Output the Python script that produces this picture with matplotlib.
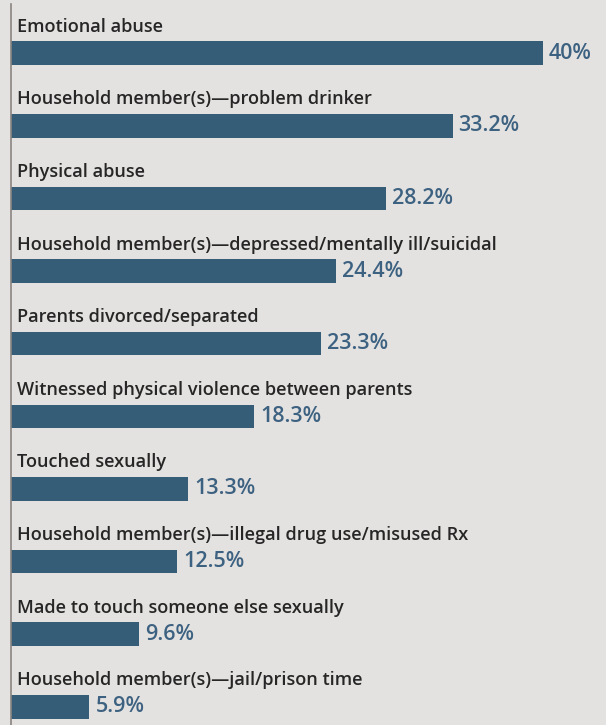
import matplotlib.pyplot as plt

# ACE categories and prevalence (%)
categories = [
    "Emotional abuse",
    "Household member(s)\u2014problem drinker",
    "Physical abuse",
    "Household member(s)\u2014depressed/mentally ill/suicidal",
    "Parents divorced/separated",
    "Witnessed physical violence between parents",
    "Touched sexually",
    "Household member(s)\u2014illegal drug use/misused Rx",
    "Made to touch someone else sexually",
    "Household member(s)\u2014jail/prison time",
]
values = [40, 33.2, 28.2, 24.4, 23.3, 18.3, 13.3, 12.5, 9.6, 5.9]
value_labels = ["40%", "33.2%", "28.2%", "24.4%", "23.3%", "18.3%", "13.3%", "12.5%", "9.6%", "5.9%"]

bg = "#e4e2e0"
bar_color = "#365d78"
value_color = "#3d6281"
text_color = "#262626"

plt.rcParams['font.family'] = ['Open Sans', 'DejaVu Sans']

fig = plt.figure(figsize=(6.06, 7.25), dpi=100, facecolor=bg)
ax = fig.add_axes([11 / 606, 0, 595 / 606, 1], facecolor=bg)

ypos = list(range(len(values)))
ax.barh(ypos, values, height=0.325, color=bar_color, linewidth=0)

ax.set_xlim(0, 595 / 13.3)
ax.set_ylim(9.252, -0.734)

for y, v, cat, lab in zip(ypos, values, categories, value_labels):
    ax.annotate(cat, xy=(0, y), xytext=(6, 21.5), textcoords="offset pixels",
                ha="left", va="baseline", fontsize=13.1, fontweight="semibold",
                color=text_color)
    ax.annotate(lab, xy=(v, y), xytext=(6, 0), textcoords="offset pixels",
                ha="left", va="center", fontsize=15.5, fontweight="semibold",
                color=value_color)

for side in ["top", "right", "bottom"]:
    ax.spines[side].set_visible(False)
ax.spines["left"].set_color("#8a8580")
ax.spines["left"].set_linewidth(1.2)
ax.spines["left"].set_bounds(9.252, -0.68)
ax.set_xticks([])
ax.set_yticks([])

fig.savefig("out.png", dpi=100, facecolor=bg)
